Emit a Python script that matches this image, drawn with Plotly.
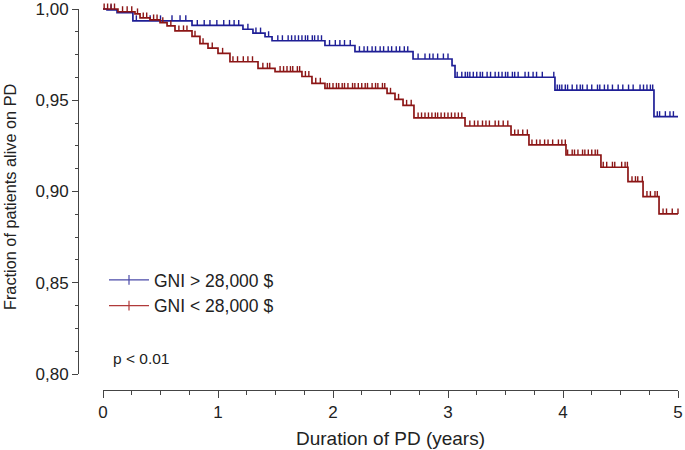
import plotly.graph_objects as go
import bisect

# ---------------- data ----------------
# GNI > 28,000 $ : event times (years) and survival after each event
hi_event_t = [0.035, 0.122, 0.26, 0.774, 1.217, 1.304, 1.409, 1.470, 1.930, 2.191, 2.696, 3.035, 3.061, 3.930, 4.791]
hi_event_s = [0.9995, 0.9980, 0.9935, 0.9910, 0.9889, 0.9868, 0.9848, 0.9826, 0.9800, 0.9766, 0.9726, 0.9690, 0.9626, 0.9556, 0.9410]
hi_censor_t = [0.07, 0.29, 0.41, 0.50, 0.60, 0.67, 0.72,
               0.82, 0.88, 0.93, 0.99, 1.05, 1.10, 1.14, 1.18, 1.26, 1.33, 1.37, 1.44,
               1.52, 1.56, 1.61, 1.64, 1.67, 1.70, 1.73, 1.76, 1.78, 1.82, 1.84, 1.87, 1.90,
               1.97, 2.02, 2.06, 2.10, 2.15,
               2.23, 2.27, 2.30, 2.34, 2.37, 2.41, 2.44, 2.48, 2.51, 2.55, 2.58, 2.62, 2.65,
               2.74, 2.80, 2.84, 2.87, 2.91, 2.96, 3.00,
               3.08, 3.12, 3.15, 3.17, 3.19, 3.22, 3.25, 3.28, 3.30, 3.34, 3.37, 3.41, 3.44,
               3.47, 3.50, 3.52, 3.56, 3.58, 3.61, 3.67, 3.70, 3.74, 3.77, 3.82, 3.92,
               3.95, 3.97, 3.99, 4.02, 4.04, 4.08, 4.12, 4.15, 4.17, 4.21, 4.25, 4.30, 4.32,
               4.36, 4.39, 4.43, 4.48, 4.52, 4.57, 4.61, 4.67, 4.70, 4.73, 4.76, 4.78,
               4.82, 4.84, 4.89, 4.93, 4.96]

# GNI < 28,000 $
lo_event_t = [0.130, 0.278, 0.322, 0.409, 0.496, 0.557, 0.626, 0.774, 0.843, 0.913, 1.000, 1.104,
              1.348, 1.496, 1.730, 1.817, 1.930, 2.470, 2.539, 2.609, 2.704, 3.148, 3.548, 3.704,
              4.026, 4.330, 4.565, 4.696, 4.835]
lo_event_s = [0.9985, 0.9973, 0.9951, 0.9940, 0.9925, 0.9907, 0.9880, 0.9850, 0.9810, 0.9786, 0.9757, 0.9711,
              0.9675, 0.9657, 0.9630, 0.9593, 0.9565, 0.9538, 0.9505, 0.9472, 0.9403, 0.9359, 0.9310, 0.9255,
              0.9200, 0.9133, 0.9054, 0.8972, 0.8877]
lo_censor_t = [0.01, 0.04, 0.07, 0.10, 0.17, 0.21, 0.25, 0.30, 0.35, 0.38, 0.44, 0.47, 0.52, 0.59,
               0.66, 0.70, 0.73, 0.80, 0.87, 0.95, 1.04,
               1.13, 1.17, 1.22, 1.26, 1.30, 1.39, 1.43, 1.45,
               1.54, 1.57, 1.60, 1.63, 1.65, 1.69, 1.71, 1.76, 1.79, 1.85, 1.89,
               1.95, 1.97, 2.00, 2.03, 2.05, 2.08, 2.10, 2.13, 2.17, 2.19, 2.22, 2.25, 2.28,
               2.30, 2.34, 2.37, 2.39, 2.43, 2.45, 2.50, 2.57, 2.64, 2.68,
               2.74, 2.77, 2.80, 2.83, 2.86, 2.89, 2.91, 2.94, 2.97, 3.00, 3.03, 3.06, 3.09, 3.12,
               3.19, 3.23, 3.26, 3.30, 3.33, 3.36, 3.41, 3.44, 3.48, 3.52,
               3.58, 3.61, 3.65, 3.69,
               3.73, 3.77, 3.80, 3.84, 3.87, 3.91, 3.96, 3.99, 4.02,
               4.04, 4.08, 4.10, 4.13, 4.17, 4.19, 4.22, 4.25, 4.28, 4.30,
               4.35, 4.38, 4.43, 4.45, 4.51, 4.54, 4.56,
               4.60, 4.63, 4.65, 4.69, 4.73, 4.76, 4.80, 4.82, 4.87, 4.90, 4.95, 5.00]

x_ticks = [0, 1, 2, 3, 4, 5]
y_ticks = [0.80, 0.85, 0.90, 0.95, 1.00]
y_tick_labels = ["0,80", "0,85", "0,90", "0,95", "1,00"]

series_names = ["GNI > 28,000 $", "GNI < 28,000 $"]
T_MAX = 5.0

# ---------------- style ----------------
W, H = 685, 450
FONT = "Liberation Sans, Arial, sans-serif"
TXT = "#222222"
AX = "#444444"
BLUE = "#1f1f96"
RED = "#8c1616"
BLUE_LEG = "#4a4aa8"
RED_LEG = "#b03a3a"

# pixel geometry of the reference
X0_PX, X5_PX = 103, 678        # x = 0 .. 5
Y100_PX, Y080_PX = 9, 374       # y = 1.00 .. 0.80
XAXIS_PY = 390
YAXIS_PX = 78
px_per_x = (X5_PX - X0_PX) / 5.0
px_per_y = (Y080_PX - Y100_PX) / 0.20
TICK_H = 5.5 / px_per_y         # height of censor marks in data units


def step_value(ev_t, ev_s, t):
    i = bisect.bisect_right(ev_t, t)
    return 1.0 if i == 0 else ev_s[i - 1]


fig = go.Figure()

for name, ev_t, ev_s, c_t, col, lcol in [
    (series_names[0], hi_event_t, hi_event_s, hi_censor_t, BLUE, BLUE_LEG),
    (series_names[1], lo_event_t, lo_event_s, lo_censor_t, RED, RED_LEG),
]:
    xs = [0.0] + ev_t + [T_MAX]
    ys = [1.0] + ev_s + [ev_s[-1]]
    fig.add_trace(go.Scatter(x=xs, y=ys, mode="lines", line=dict(color=col, width=1.7, shape="hv"),
                             showlegend=False, hoverinfo="skip", xaxis="x", yaxis="y"))
    cs = [step_value(ev_t, ev_s, t) for t in c_t]
    fig.add_trace(go.Scatter(x=c_t, y=cs, mode="markers", marker=dict(size=0, color=col, opacity=0),
                             error_y=dict(type="data", symmetric=False, array=[TICK_H] * len(c_t),
                                          arrayminus=[0] * len(c_t), width=0, thickness=1.4, color=col),
                             showlegend=False, hoverinfo="skip", xaxis="x", yaxis="y"))
    fig.add_trace(go.Scatter(x=[None], y=[None], mode="lines+markers", name=name,
                             line=dict(color=lcol, width=1.3),
                             marker=dict(symbol="line-ns", size=7, line=dict(color=lcol, width=1.2)),
                             xaxis="x", yaxis="y"))

# dummy trace for the visible axes
fig.add_trace(go.Scatter(x=[None], y=[None], xaxis="x2", yaxis="y2", showlegend=False, hoverinfo="skip"))

# data axes (invisible), same scale as visible axes but wider area
dx_left_px, dx_right_px = 88, 685
dy_top_px, dy_bot_px = 0, 400
xaxis_data = dict(domain=[dx_left_px / W, dx_right_px / W],
                  range=[(dx_left_px - X0_PX) / px_per_x, (dx_right_px - X0_PX) / px_per_x],
                  visible=False, fixedrange=True, automargin=False)
yaxis_data = dict(domain=[1 - dy_bot_px / H, 1 - dy_top_px / H],
                  range=[1.0 - (dy_bot_px - Y100_PX) / px_per_y, 1.0 - (dy_top_px - Y100_PX) / px_per_y],
                  visible=False, fixedrange=True, automargin=False)

fig.update_layout(
    width=W, height=H,
    margin=dict(l=0, r=0, t=0, b=0, pad=0, autoexpand=False),
    paper_bgcolor="white", plot_bgcolor="rgba(0,0,0,0)",
    font=dict(family=FONT, color=TXT, size=17),
    xaxis=xaxis_data, yaxis=yaxis_data,
    xaxis2=dict(domain=[X0_PX / W, X5_PX / W], range=[0, 5], anchor="free", position=1 - XAXIS_PY / H,
                showline=True, linecolor=AX, linewidth=1, showgrid=False, zeroline=False,
                ticks="outside", ticklen=7, tickwidth=1, tickcolor=AX, automargin=False,
                ticklabeloverflow="allow",
                tickvals=x_ticks, ticktext=[str(v) for v in x_ticks],
                tickfont=dict(size=17, color=TXT, family=FONT),
                minor=dict(ticks="outside", dtick=0.25, ticklen=3.5, tickwidth=1, tickcolor=AX, showgrid=False),
                title=dict(text="Duration of PD (years)", font=dict(size=19, color=TXT, family=FONT), standoff=10),
                fixedrange=True),
    yaxis2=dict(domain=[1 - Y080_PX / H, 1 - Y100_PX / H], range=[0.80, 1.00], anchor="free", position=YAXIS_PX / W,
                showline=True, linecolor=AX, linewidth=1, showgrid=False, zeroline=False,
                ticks="outside", ticklen=6, tickwidth=1, tickcolor=AX, automargin=False,
                ticklabeloverflow="allow",
                tickvals=y_ticks, ticktext=y_tick_labels,
                tickfont=dict(size=17, color=TXT, family=FONT),
                minor=dict(ticks="outside", dtick=0.0125, ticklen=3, tickwidth=1, tickcolor=AX, showgrid=False),
                fixedrange=True),
    legend=dict(x=104 / W, y=1 - 262 / H, xanchor="left", yanchor="top", bgcolor="rgba(0,0,0,0)",
                font=dict(size=17.5, color=TXT, family=FONT), itemwidth=40, tracegroupgap=0),
    annotations=[
        dict(text="Fraction of patients alive on PD", textangle=-90, x=10 / W, y=1 - 312 / H,
             xref="paper", yref="paper", showarrow=False, xanchor="center", yanchor="bottom",
             font=dict(size=16.3, color=TXT, family=FONT)),
        dict(text="p < 0.01", x=111 / W, y=1 - 358 / H, xref="paper", yref="paper", showarrow=False,
             xanchor="left", yanchor="middle", font=dict(size=15.5, color=TXT, family=FONT)),
    ],
    showlegend=True,
)

fig.write_html("out.html", config={"displayModeBar": False},
               post_script="document.body.style.margin='0';document.body.style.overflow='hidden';")
